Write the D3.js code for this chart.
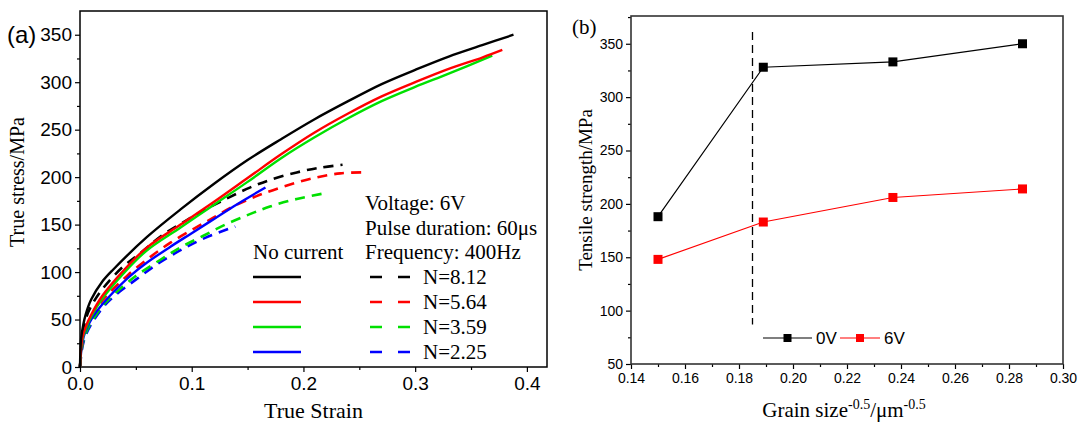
<!DOCTYPE html>
<html>
<head>
<meta charset="utf-8">
<script src="https://cdn.jsdelivr.net/npm/d3@7"></script>
<style>
  body { margin: 0; background: #fff; }
  svg { display: block; }
  .tick text { font-family: "Liberation Sans", Arial, sans-serif; }
</style>
</head>
<body>
<svg id="chart" width="1082" height="424"></svg>
<script>
// ---- data: panel (a) true stress-strain curves [strain, stress] ----
var noCurrentBlack = [[0,0],[0.001,30],[0.003,45],[0.005,55],[0.01,71],[0.02,90],[0.03,103],[0.06,137],[0.09,166],[0.12,193],[0.15,218],[0.18,240],[0.21,261],[0.24,280],[0.27,298],[0.30,313],[0.33,327],[0.36,339],[0.388,350]];
var noCurrentRed = [[0,0],[0.002,30],[0.005,42],[0.01,55],[0.02,75],[0.04,103],[0.06,126],[0.09,150],[0.12,174],[0.15,199],[0.18,224],[0.21,247],[0.24,267],[0.27,285],[0.30,300],[0.33,314],[0.36,326],[0.378,334]];
var noCurrentGreen = [[0,0],[0.002,28],[0.005,40],[0.01,53],[0.02,72],[0.04,100],[0.06,123],[0.09,147],[0.12,171],[0.15,195],[0.18,220],[0.21,242],[0.24,262],[0.27,280],[0.30,295],[0.33,309],[0.369,328]];
var noCurrentBlue = [[0,0],[0.002,25],[0.005,38],[0.01,50],[0.02,66],[0.03,79],[0.045,96],[0.06,110],[0.08,126],[0.1,141],[0.12,156],[0.14,171],[0.166,189]];
var pulseBlack = [[0,0],[0.002,30],[0.005,50],[0.01,64],[0.02,82],[0.037,104],[0.054,120],[0.074,139],[0.096,155],[0.114,167],[0.134,179],[0.152,189],[0.17,197],[0.194,205],[0.215,210],[0.235,213]];
var pulseRed = [[0,0],[0.002,25],[0.005,40],[0.01,52],[0.02,70],[0.027,79],[0.043,97],[0.063,116],[0.081,131],[0.101,145],[0.119,157],[0.137,169],[0.158,180],[0.182,190],[0.209,199],[0.233,204],[0.253,205]];
var pulseGreen = [[0,0],[0.002,22],[0.005,35],[0.01,47],[0.02,64],[0.028,74],[0.049,95],[0.072,113],[0.09,126],[0.11,138],[0.13,150],[0.152,161],[0.17,169],[0.194,177],[0.219,183]];
var pulseBlue = [[0,0],[0.002,20],[0.005,33],[0.01,45],[0.02,62],[0.03,74],[0.05,92],[0.07,109],[0.09,123],[0.112,136],[0.139,148]];
var curveColors = ["#000000", "#ff0000", "#00e000", "#0000ff"];
var nLabels = ["N=8.12", "N=5.64", "N=3.59", "N=2.25"];
var infoLines = ["Voltage: 6V", "Pulse duration: 60\u03bcs", "Frequency: 400Hz"];

// ---- data: panel (b) tensile strength vs grain size ----
var grainSize = [0.150, 0.189, 0.237, 0.285];
var strength0V = [188, 328, 333, 350];
var strength6V = [148, 183, 206, 214];
var seriesNames = ["0V", "6V"];
var criticalSize = 0.185;

var svg = d3.select("#chart");
var serif = '"Liberation Serif", "Times New Roman", serif';
var sans = '"Liberation Sans", Arial, sans-serif';

// =============== panel (a) ===============
var a = { left: 80, top: 11, right: 547, bottom: 367 };
var xA = d3.scaleLinear().domain([0, 0.418]).range([a.left, a.right]);
var yA = d3.scaleLinear().domain([0, 375]).range([a.bottom, a.top]);

var gA = svg.append("g");

// minor ticks
gA.append("g")
    .attr("transform", "translate(0," + a.bottom + ")")
    .call(d3.axisBottom(xA).tickValues([0.05, 0.15, 0.25, 0.35]).tickSize(3).tickFormat(""))
    .call(g => g.select(".domain").remove());
gA.append("g")
    .attr("transform", "translate(" + a.left + ",0)")
    .call(d3.axisLeft(yA).tickValues(d3.range(25, 375, 50)).tickSize(3).tickFormat(""))
    .call(g => g.select(".domain").remove());

// major ticks
var xAxisA = gA.append("g")
    .attr("transform", "translate(0," + a.bottom + ")")
    .call(d3.axisBottom(xA).tickValues([0, 0.1, 0.2, 0.3, 0.4]).tickSize(5).tickPadding(5).tickFormat(d3.format(".1f")));
xAxisA.select(".domain").remove();
xAxisA.selectAll("text").style("font-size", "19px").attr("fill", "#000");

var yAxisA = gA.append("g")
    .attr("transform", "translate(" + a.left + ",0)")
    .call(d3.axisLeft(yA).tickValues(d3.range(0, 351, 50)).tickSize(5).tickPadding(3));
yAxisA.select(".domain").remove();
yAxisA.selectAll("text").style("font-size", "19px").attr("fill", "#000");
gA.selectAll(".tick line").attr("stroke", "#000").attr("stroke-width", 1.2);

// frame
gA.append("rect")
    .attr("x", a.left).attr("y", a.top)
    .attr("width", a.right - a.left).attr("height", a.bottom - a.top)
    .attr("fill", "none").attr("stroke", "#000").attr("stroke-width", 1.5);

var lineA = d3.line()
    .x(d => xA(d[0]))
    .y(d => yA(d[1]))
    .curve(d3.curveCatmullRom.alpha(0.5));

var solidSets = [noCurrentBlack, noCurrentRed, noCurrentGreen, noCurrentBlue];
var dashedSets = [pulseBlack, pulseRed, pulseGreen, pulseBlue];

// draw back to front so the black curves sit on top
[3, 2, 1, 0].forEach(function(i) {
    gA.append("path")
        .datum(dashedSets[i])
        .attr("d", lineA)
        .attr("fill", "none")
        .attr("stroke", curveColors[i])
        .attr("stroke-width", 2.6)
        .attr("stroke-dasharray", "10,7");
});
[3, 2, 1, 0].forEach(function(i) {
    gA.append("path")
        .datum(solidSets[i])
        .attr("d", lineA)
        .attr("fill", "none")
        .attr("stroke", curveColors[i])
        .attr("stroke-width", 2.4);
});

// legend (a)
infoLines.forEach(function(t, i) {
    gA.append("text")
        .attr("x", 365).attr("y", 210 + i * 24.5)
        .style("font-family", serif).style("font-size", "21px")
        .text(t);
});
gA.append("text")
    .attr("x", 253).attr("y", 259)
    .style("font-family", serif).style("font-size", "21px")
    .text("No current");

curveColors.forEach(function(c, i) {
    var ly = 277 + i * 25;
    gA.append("line")
        .attr("x1", 253).attr("x2", 301).attr("y1", ly).attr("y2", ly)
        .attr("stroke", c).attr("stroke-width", 2.6);
    gA.append("line")
        .attr("x1", 370).attr("x2", 410).attr("y1", ly).attr("y2", ly)
        .attr("stroke", c).attr("stroke-width", 2.6)
        .attr("stroke-dasharray", "12,16");
    gA.append("text")
        .attr("x", 423).attr("y", ly + 7)
        .style("font-family", serif).style("font-size", "21px")
        .text(nLabels[i]);
});

// labels (a)
gA.append("text")
    .attr("x", 7).attr("y", 43)
    .style("font-family", sans).style("font-size", "24px")
    .text("(a)");
gA.append("text")
    .attr("transform", "translate(24,182) rotate(-90)")
    .attr("text-anchor", "middle")
    .style("font-family", serif).style("font-size", "20px")
    .text("True stress/MPa");
gA.append("text")
    .attr("x", (a.left + a.right) / 2).attr("y", 418)
    .attr("text-anchor", "middle")
    .style("font-family", serif).style("font-size", "22px")
    .text("True Strain");

// =============== panel (b) ===============
var b = { left: 631, top: 16, right: 1063, bottom: 364 };
var xB = d3.scaleLinear().domain([0.14, 0.30]).range([b.left, b.right]);
var yB = d3.scaleLinear().domain([50, 376]).range([b.bottom, b.top]);

var gB = svg.append("g");

gB.append("g")
    .attr("transform", "translate(0," + b.bottom + ")")
    .call(d3.axisBottom(xB).tickValues(d3.range(0.15, 0.30, 0.02)).tickSize(3).tickFormat(""))
    .call(g => g.select(".domain").remove());
gB.append("g")
    .attr("transform", "translate(" + b.left + ",0)")
    .call(d3.axisLeft(yB).tickValues(d3.range(75, 376, 50)).tickSize(3).tickFormat(""))
    .call(g => g.select(".domain").remove());

var xAxisB = gB.append("g")
    .attr("transform", "translate(0," + b.bottom + ")")
    .call(d3.axisBottom(xB).tickValues(d3.range(0.14, 0.301, 0.02)).tickSize(5).tickPadding(4).tickFormat(d3.format(".2f")));
xAxisB.select(".domain").remove();
xAxisB.selectAll("text").style("font-size", "14px").attr("fill", "#000");

var yAxisB = gB.append("g")
    .attr("transform", "translate(" + b.left + ",0)")
    .call(d3.axisLeft(yB).tickValues(d3.range(50, 351, 50)).tickSize(5).tickPadding(3));
yAxisB.select(".domain").remove();
yAxisB.selectAll("text").style("font-size", "14px").attr("fill", "#000");
gB.selectAll(".tick line").attr("stroke", "#000").attr("stroke-width", 1.2);

gB.append("rect")
    .attr("x", b.left).attr("y", b.top)
    .attr("width", b.right - b.left).attr("height", b.bottom - b.top)
    .attr("fill", "none").attr("stroke", "#333").attr("stroke-width", 1.6);

// critical grain size marker
gB.append("line")
    .attr("x1", xB(criticalSize)).attr("x2", xB(criticalSize))
    .attr("y1", yB(361)).attr("y2", yB(87))
    .attr("stroke", "#000").attr("stroke-width", 1.3)
    .attr("stroke-dasharray", "8,5");

var seriesB = [
    { name: seriesNames[0], color: "#000000", values: strength0V },
    { name: seriesNames[1], color: "#ff0000", values: strength6V }
];

var lineB = d3.line()
    .x(d => xB(d[0]))
    .y(d => yB(d[1]));

seriesB.forEach(function(s) {
    var pts = grainSize.map((g, i) => [g, s.values[i]]);
    gB.append("path")
        .datum(pts)
        .attr("d", lineB)
        .attr("fill", "none")
        .attr("stroke", s.color)
        .attr("stroke-width", 1.2);
    gB.selectAll(null)
        .data(pts)
        .enter().append("rect")
        .attr("x", d => xB(d[0]) - 4.5)
        .attr("y", d => yB(d[1]) - 4.5)
        .attr("width", 9).attr("height", 9)
        .attr("fill", s.color);
});

// legend (b)
var legX = [763, 840];
var legW = [49, 40];
seriesB.forEach(function(s, i) {
    var lx = legX[i], ly = 338;
    gB.append("line")
        .attr("x1", lx).attr("x2", lx + legW[i]).attr("y1", ly).attr("y2", ly)
        .attr("stroke", s.color).attr("stroke-width", 1.2);
    gB.append("rect")
        .attr("x", lx + legW[i] / 2 - 4).attr("y", ly - 4)
        .attr("width", 8).attr("height", 8)
        .attr("fill", s.color);
    gB.append("text")
        .attr("x", lx + legW[i] + 4).attr("y", ly + 6)
        .style("font-family", sans).style("font-size", "17px")
        .text(s.name);
});

// labels (b)
gB.append("text")
    .attr("x", 572).attr("y", 34)
    .style("font-family", serif).style("font-size", "21px")
    .text("(b)");
gB.append("text")
    .attr("transform", "translate(592," + ((b.top + b.bottom) / 2) + ") rotate(-90)")
    .attr("text-anchor", "middle")
    .style("font-family", serif).style("font-size", "19px")
    .text("Tensile strength/MPa");

var xl = gB.append("text")
    .attr("x", 844).attr("y", 417)
    .attr("text-anchor", "middle")
    .style("font-family", serif).style("font-size", "21px");
xl.append("tspan").text("Grain size");
xl.append("tspan").attr("dy", -8).style("font-size", "14px").text("-0.5");
xl.append("tspan").attr("dy", 8).text("/\u03bcm");
xl.append("tspan").attr("dy", -8).style("font-size", "14px").text("-0.5");
</script>
</body>
</html>
